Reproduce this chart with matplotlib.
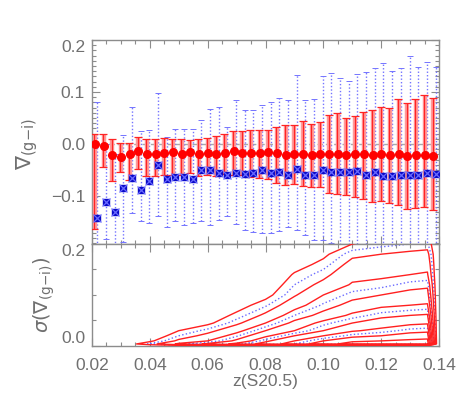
import numpy as np
import matplotlib
matplotlib.use("Agg")
import matplotlib.pyplot as plt
from matplotlib.ticker import MultipleLocator, FixedLocator

plt.rcParams['font.family'] = ['Liberation Sans', 'DejaVu Sans']
plt.rcParams['mathtext.fontset'] = 'dejavusans'

# ---------------- data ----------------
z_bins = [0.021, 0.024, 0.027, 0.030, 0.033, 0.036, 0.039, 0.042, 0.045, 0.048,
          0.051, 0.054, 0.057, 0.060, 0.063, 0.066, 0.069, 0.072, 0.075, 0.078,
          0.081, 0.084, 0.087, 0.090, 0.093, 0.096, 0.099, 0.102, 0.105, 0.108,
          0.111, 0.114, 0.117, 0.120, 0.123, 0.126, 0.129, 0.132, 0.135, 0.138]

red_val = [0.001, -0.003, -0.021, -0.025, -0.020, -0.014, -0.020, -0.020, -0.018, -0.016,
           -0.019, -0.016, -0.020, -0.018, -0.019, -0.017, -0.013, -0.018, -0.018, -0.018,
           -0.015, -0.017, -0.021, -0.019, -0.019, -0.021, -0.019, -0.020, -0.020, -0.021,
           -0.020, -0.020, -0.021, -0.020, -0.021, -0.020, -0.023, -0.021, -0.021, -0.023]
red_hi = [0.019, 0.020, 0.009, 0.003, 0.003, 0.013, 0.010, 0.009, 0.011, 0.010,
          0.009, 0.008, 0.010, 0.011, 0.016, 0.019, 0.025, 0.025, 0.028, 0.028,
          0.028, 0.032, 0.036, 0.036, 0.045, 0.038, 0.042, 0.055, 0.059, 0.051,
          0.054, 0.061, 0.065, 0.072, 0.069, 0.086, 0.079, 0.086, 0.094, 0.088]
red_lo = [-0.163, -0.044, -0.071, -0.053, -0.069, -0.047, -0.062, -0.062, -0.059, -0.060,
          -0.060, -0.055, -0.062, -0.060, -0.062, -0.057, -0.060, -0.060, -0.064, -0.066,
          -0.067, -0.074, -0.078, -0.077, -0.081, -0.082, -0.082, -0.094, -0.095, -0.097,
          -0.101, -0.106, -0.111, -0.109, -0.114, -0.117, -0.125, -0.122, -0.120, -0.127]

blue_val = [-0.142, -0.112, -0.131, -0.085, -0.065, -0.089, -0.071, -0.040, -0.067, -0.064,
            -0.063, -0.068, -0.050, -0.049, -0.056, -0.060, -0.055, -0.058, -0.056, -0.050,
            -0.056, -0.054, -0.059, -0.048, -0.059, -0.059, -0.050, -0.054, -0.054, -0.053,
            -0.051, -0.059, -0.054, -0.061, -0.061, -0.059, -0.059, -0.060, -0.056, -0.057]
blue_hi = [0.081, 0.000, -0.020, 0.018, 0.072, 0.026, 0.028, 0.098, 0.013, 0.029,
           0.029, 0.029, 0.047, 0.067, 0.071, 0.032, 0.085, 0.066, 0.066, 0.076,
           0.081, 0.088, 0.084, 0.133, 0.085, 0.087, 0.131, 0.137, 0.127, 0.122,
           0.135, 0.138, 0.146, 0.156, 0.140, 0.146, 0.170, 0.148, 0.157, 0.149]
blue_lo = [-0.210, -0.183, -0.210, -0.188, -0.132, -0.148, -0.152, -0.138, -0.159, -0.148,
           -0.155, -0.151, -0.148, -0.155, -0.145, -0.138, -0.153, -0.165, -0.168, -0.170,
           -0.170, -0.167, -0.160, -0.166, -0.175, -0.185, -0.184, -0.190, -0.200, -0.200,
           -0.205, -0.205, -0.210, -0.210, -0.210, -0.210, -0.210, -0.210, -0.210, -0.210]

# density grid for the lower panel (rows: sigma, columns: z)
grid_z = [0.030, 0.040, 0.050, 0.060, 0.070, 0.080, 0.090, 0.100, 0.110, 0.120, 0.130, 0.136, 0.1395]
grid_s = [0.000, 0.004, 0.010, 0.020, 0.030, 0.045, 0.060, 0.080, 0.100, 0.120, 0.140,
          0.160, 0.180, 0.200, 0.220]
grid_d = [
    [0, 0, 0, 0, 0, 0, 0, 0, 0, 0, 0, 0, 0],
    [0.3, 1.6, 3.2, 4.2, 5.3, 6.4, 7.5, 8.5, 9.5, 9.6, 9.7, 9.8, 0],
    [0.1, 0.8, 2.2, 3.0, 4.2, 5.8, 7.0, 8.0, 8.8, 9.0, 9.2, 9.3, 0],
    [0, 0.3, 1.5, 2.3, 3.4, 4.8, 6.0, 7.0, 7.7, 8.0, 8.4, 8.5, 0],
    [0, 0, 1.0, 1.7, 2.7, 4.0, 5.0, 6.0, 6.9, 7.25, 7.7, 7.8, 0],
    [0, 0, 0.5, 0.8, 1.8, 3.0, 4.25, 5.3, 6.0, 6.5, 6.8, 6.9, 0],
    [0, 0, 0.2, 0.4, 1.2, 2.2, 3.5, 4.3, 5.2, 5.75, 6.0, 6.1, 0],
    [0, 0, 0, 0.1, 0.6, 1.4, 2.6, 3.6, 4.3, 4.8, 5.0, 5.1, 0],
    [0, 0, 0, 0, 0.2, 0.7, 1.9, 3.0, 3.7, 4.0, 4.3, 4.4, 0],
    [0, 0, 0, 0, 0, 0.3, 1.5, 2.25, 3.1, 3.3, 3.7, 3.8, 0],
    [0, 0, 0, 0, 0, 0, 1.1, 1.75, 2.7, 2.8, 3.0, 3.1, 0],
    [0, 0, 0, 0, 0, 0, 0.6, 1.25, 2.3, 2.4, 2.6, 2.7, 0],
    [0, 0, 0, 0, 0, 0, 0.2, 0.8, 1.8, 2.0, 2.2, 2.3, 0],
    [0, 0, 0, 0, 0, 0, 0, 0.3, 1.0, 1.3, 1.5, 1.6, 0],
    [0, 0, 0, 0, 0, 0, 0, 0, 0.4, 0.7, 0.8, 0.9, 0],
]
red_levels = [1, 2, 3, 4, 5, 6, 7, 8, 9]
blue_levels = [1.5, 3.5, 5.5, 7.5]

# ---------------- figure ----------------
AX_COL = '#8c8c8c'
TXT_COL = '#707070'

fig = plt.figure(figsize=(4.63, 4.07), dpi=100)
ax1 = fig.add_axes([0.1987, 0.4005, 0.7495, 0.5012])
ax2 = fig.add_axes([0.1987, 0.1499, 0.7495, 0.2506])

z = np.array(z_bins)
rv = np.array(red_val)
bv = np.array(blue_val)

# zero line
ax1.axhline(0.0, color='#a8a8a8', lw=1.0, ls=(0, (4, 2)), zorder=1)

# blue points with dotted error bars
bz = z + 0.0008
eb = ax1.errorbar(bz, bv, yerr=[bv - np.array(blue_lo), np.array(blue_hi) - bv],
                  fmt='none', ecolor='#7474ff', elinewidth=1.0, capsize=2.5,
                  capthick=0.7, zorder=2)
eb[2][0].set_linestyle((0, (1, 1.5)))
ax1.plot(bz, bv, 's', ms=4.3, color='#0a0ac8', zorder=5)
ax1.plot(bz, bv, 'x', ms=5.5, mew=0.9, color='#6a6aff', zorder=6)

# red points with two sets of error bars
ax1.vlines(z, red_lo, red_hi, color='#ff9a9a', lw=3.2, zorder=3)
ax1.errorbar(z - 0.0002, rv, yerr=[rv - np.array(red_lo), np.array(red_hi) - rv],
             fmt='none', ecolor='#ff2424', elinewidth=0.9, capsize=3.0,
             capthick=0.9, zorder=4)
ax1.plot(z, rv, 'o', ms=5.5, color='#ff0000', mec='#ff0000', zorder=7)

ax1.set_xlim(0.02, 0.14)
ax1.set_ylim(-0.192, 0.2)
ax1.yaxis.set_major_locator(FixedLocator([-0.1, 0.0, 0.1, 0.2]))
ax1.yaxis.set_minor_locator(MultipleLocator(0.01))
ax1.xaxis.set_major_locator(MultipleLocator(0.02))
ax1.xaxis.set_minor_locator(MultipleLocator(0.005))
ax1.set_xticklabels([])
ax1.set_yticklabels(['\u22120.1', '0.0', '0.1', '0.2'])
for lab in ax1.get_yticklabels():
    if lab.get_text() == '0.2':
        lab.set_va('top')

# lower panel contours
gz, gs = np.meshgrid(np.array(grid_z), np.array(grid_s))
gd = np.array(grid_d)
ax2.contour(gz, gs, gd, levels=red_levels, colors='#ff2020', linewidths=1.0, zorder=3)
ax2.contour(gz, gs, gd, levels=blue_levels, colors='#6a6aff', linewidths=1.0,
            linestyles='dotted', zorder=2)

ax2.set_xlim(0.02, 0.14)
ax2.set_ylim(0.0, 0.2)
ax2.yaxis.set_major_locator(FixedLocator([0.0, 0.2]))
ax2.yaxis.set_minor_locator(MultipleLocator(0.05))
ax2.xaxis.set_major_locator(MultipleLocator(0.02))
ax2.xaxis.set_minor_locator(MultipleLocator(0.005))
ax2.set_yticklabels(['0.0', '0.2'])
yl = ax2.get_yticklabels()
yl[0].set_va('bottom')
yl[1].set_va('top')

for ax in (ax1, ax2):
    for sp in ax.spines.values():
        sp.set_color(AX_COL)
        sp.set_linewidth(1.0)
    ax.tick_params(which='both', direction='in', top=True, right=True,
                   color=AX_COL, labelcolor=TXT_COL, labelsize=12.5, width=0.8)
    ax.tick_params(which='major', length=6)
    ax.tick_params(which='minor', length=3)
    ax.tick_params(axis='y', pad=5)
    ax.tick_params(axis='x', pad=9)

ax2.set_xlabel('z(S20.5)', color=TXT_COL, fontsize=12.5)
ax2.xaxis.set_label_coords(0.5, -0.27)
ax1.set_ylabel(r'$\nabla_{\mathrm{(g{-}i)}}$', color=TXT_COL, fontsize=15)
ax1.yaxis.set_label_coords(-0.15, 0.49)
ax2.set_ylabel(r'$\sigma\left(\nabla_{\mathrm{(g{-}i)}}\right)$', color=TXT_COL, fontsize=14)
ax2.yaxis.set_label_coords(-0.10, 0.5)

fig.savefig('out.png', dpi=100)
